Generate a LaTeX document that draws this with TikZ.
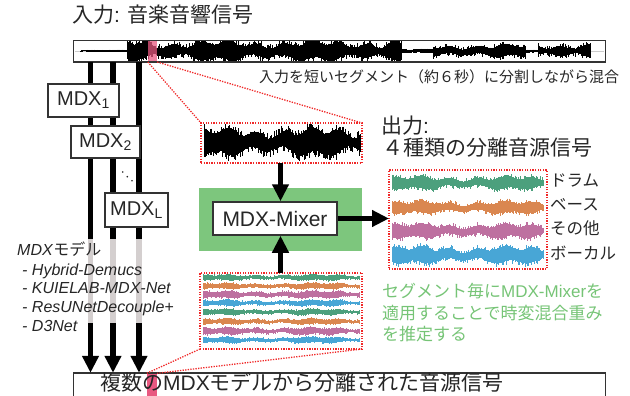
\documentclass[tikz,border=0pt]{standalone}
\usepackage{fontspec}
\setmainfont{Liberation Sans}
\newfontfamily\jp{Noto Sans CJK JP}
\usetikzlibrary{arrows.meta}
\definecolor{mixgreen}{RGB}{125,198,125}
\definecolor{txtgreen}{RGB}{118,196,118}
\definecolor{wgreen}{RGB}{76,160,125}
\definecolor{worange}{RGB}{218,135,80}
\definecolor{wpink}{RGB}{190,112,160}
\definecolor{wblue}{RGB}{72,166,214}
\definecolor{hlpink}{RGB}{232,88,128}
\definecolor{linegray}{RGB}{212,207,207}
\definecolor{segred}{RGB}{240,40,40}
\newcommand\wavefm[6]{%
  \pgfmathsetmacro\wvnext{#1+#6}%
  \draw[#5, line width=#6*1.3pt] foreach \x in {#1,\wvnext,...,#2}
    {(\x,{#3-#4*(0.42+0.13*sin(\x*3.7)+0.15*sin(\x*13)+0.3*rnd^4)}) -- (\x,{#3+#4*(0.42+0.13*sin(\x*3.7)+0.15*sin(\x*11+40)+0.3*rnd^4)})};}
\begin{document}
\begin{tikzpicture}[x=1pt,y=-1pt,
  txt/.style={inner sep=0pt, anchor=west, text height=0.75em, text depth=0.15em, text=black!85},
  mdxbox/.style={draw=black!80, line width=1.5pt, fill=white, inner sep=0pt, font=\fontsize{20}{20}\selectfont, text=black!85},
  boxframe/.style={draw=black!80, line width=1.6pt, inner sep=0pt, outer sep=0pt},
  segbox/.style={draw=segred, line width=1.3pt, dash pattern=on 1.3pt off 1.3pt, inner sep=0pt, outer sep=0pt},
  arr/.style={line width=5.5pt, -{Triangle[width=16pt,length=17pt]}},
  vline/.style={line width=5.5pt},
  conn/.style={segred, line width=1.3pt, dash pattern=on 1.3pt off 1.3pt}]
\useasboundingbox (0,0) rectangle (630,396);
\pgfmathsetseed{7}
% ---------- input signal ----------
\draw[gray!40, line width=0.6pt] (75,51) -- (604,51);
\begin{scope}
\clip (74,41.5) rectangle (605,61);
\wavefm{81}{127}{51}{1.8}{black}{1}
\wavefm{127}{401}{51}{15}{black}{0.5}
\wavefm{401}{433}{51}{3}{black}{1}
\wavefm{433}{526}{51}{10}{black}{0.6}
\wavefm{526}{538}{51}{2}{black}{1}
\wavefm{538}{591}{51}{11}{black}{0.6}
\end{scope}
\node[fill=hlpink, opacity=0.75, inner sep=0pt, minimum width=9pt, minimum height=21pt] (hlin) at (152.5,51.3) {};
\node[boxframe, minimum width=532pt, minimum height=21.5pt] (in) at (339.5,51.3) {};
\node[txt, font=\fontsize{21}{21}\selectfont] (title) at (72,20) {{\jp 入力}: {\jp 音楽音響信号}};
\node[txt, font=\fontsize{15}{15}\selectfont] (segnote) at (259,80) {\jp 入力を短いセグメント（約６秒）に分割しながら混合};
% ---------- bottom box ----------
\node[boxframe, minimum width=532pt, minimum height=40pt] (bot) at (339.5,392.8) {};
\node[fill=hlpink, inner sep=0pt, minimum width=10pt, minimum height=24pt] (hlout) at (152,385.5) {};
\node[txt, font=\fontsize{21}{21}\selectfont] (bottxt) at (100,387) {{\jp 複数の}MDX{\jp モデルから分離された音源信号}};
% ---------- vertical lines ----------
\foreach \n/\xx in {1/90.5,2/113,3/139}{
  \coordinate (c\n) at (\xx,0);
  \coordinate (ga\n) at (\xx,239);
  \coordinate (gb\n) at (\xx,323);
  \draw[vline] (c\n |- in.south) -- (ga\n);
  \draw[vline, linegray] (ga\n) -- (gb\n);
  \draw[arr] (gb\n) -- (c\n |- bot.north);
}
\node[mdxbox, minimum width=71pt, minimum height=33pt] (mdx1) at (83.5,100.5) {MDX\textsubscript{1}};
\node[mdxbox, minimum width=69pt, minimum height=32pt] (mdx2) at (105.5,142) {MDX\textsubscript{2}};
\node[mdxbox, minimum width=63pt, minimum height=34pt] (mdxl) at (136.5,210) {MDX\textsubscript{L}};
\foreach \dx/\dy [count=\k] in {122.7/172,127.3/176.7,132/180.7}
  \fill[black!85] (\dx,\dy) circle[radius=0.9pt] coordinate (dot\k);
% ---------- model list ----------
\node[txt, font=\fontsize{16}{16}\selectfont] (mlist) at (17,252) {\textit{MDX}{\jp モデル}};
\node[txt, font=\fontsize{16}{16}\selectfont\itshape] (m1) at (22,272) {- Hybrid-Demucs};
\node[txt, font=\fontsize{16}{16}\selectfont\itshape] (m2) at (22,290.5) {- KUIELAB-MDX-Net};
\node[txt, font=\fontsize{16}{16}\selectfont\itshape] (m3) at (22,309.5) {- ResUNetDecouple+};
\node[txt, font=\fontsize{16}{16}\selectfont\itshape] (m4) at (22,328) {- D3Net};
% ---------- mixer ----------
\node[fill=mixgreen, inner sep=0pt, minimum width=163pt, minimum height=63pt] (gbox) at (280.5,219.5) {};
\node[mdxbox, font=\fontsize{21}{21}\selectfont, minimum width=124pt, minimum height=33pt] (mixer) at (275,218.5) {MDX-Mixer};
% top segment
\begin{scope}
\clip (202,124.5) rectangle (361,161.5);
\wavefm{204}{360}{142}{21}{black}{0.5}
\end{scope}
\node[segbox, minimum width=161pt, minimum height=40pt] (seg1) at (281.5,143) {};
% lower segment
\wavefm{203}{360}{277.5}{4.5}{wgreen}{0.7}
\wavefm{203}{360}{286}{4.5}{worange}{0.7}
\wavefm{203}{360}{294.5}{5.5}{wpink}{0.7}
\wavefm{203}{360}{303}{4.5}{wblue}{0.7}
\wavefm{203}{360}{312}{4.5}{wgreen}{0.7}
\wavefm{203}{360}{321.5}{4.5}{worange}{0.7}
\wavefm{203}{360}{331}{5.5}{wpink}{0.7}
\wavefm{203}{360}{340}{4.5}{wblue}{0.7}
\node[segbox, minimum width=162pt, minimum height=76pt] (seg2) at (281,311) {};
% output
\wavefm{392}{544}{183}{10}{wgreen}{0.6}
\wavefm{392}{544}{207.5}{9.5}{worange}{0.6}
\wavefm{392}{544}{231}{11}{wpink}{0.6}
\wavefm{392}{544}{255}{13}{wblue}{0.6}
\node[segbox, minimum width=158pt, minimum height=99pt] (outbox) at (468,219.5) {};
\node[txt, font=\fontsize{21}{21}\selectfont] (outt1) at (381,130) {{\jp 出力}:};
\node[txt, font=\fontsize{21}{21}\selectfont] (outt2) at (382,153) {\jp ４種類の分離音源信号};
\node[txt, font=\fontsize{16.5}{16.5}\selectfont] (lab1) at (550,183) {\jp ドラム};
\node[txt, font=\fontsize{16.5}{16.5}\selectfont] (lab2) at (550,207.5) {\jp ベース};
\node[txt, font=\fontsize{16.5}{16.5}\selectfont] (lab3) at (550,231.5) {\jp その他};
\node[txt, font=\fontsize{16.5}{16.5}\selectfont] (lab4) at (550,256) {\jp ボーカル};
% green note
\node[txt, text=txtgreen, font=\fontsize{17}{17}\selectfont] (g1) at (382,294) {{\jp セグメント毎に}MDX-Mixer{\jp を}};
\node[txt, text=txtgreen, font=\fontsize{17}{17}\selectfont] (g2) at (382,316) {\jp 適用することで時変混合重み};
\node[txt, text=txtgreen, font=\fontsize{17}{17}\selectfont] (g3) at (382,337.5) {\jp を推定する};
% arrows
\draw[arr] (seg1.south -| 280.5,0) -- (280.5,0 |- mixer.north);
\draw[arr] (seg2.north -| 280.5,0) -- (280.5,0 |- mixer.south);
\draw[arr] (mixer.east) -- (mixer.east -| outbox.west);
% dotted connectors
\draw[conn] (hlin.south west) -- (seg1.north west);
\draw[conn] (hlin.south east) -- (seg1.north east);
\draw[conn] (seg2.south west) -- (hlout.north west);
\draw[conn] (seg2.south east) -- (hlout.north east);
\end{tikzpicture}
\end{document}
